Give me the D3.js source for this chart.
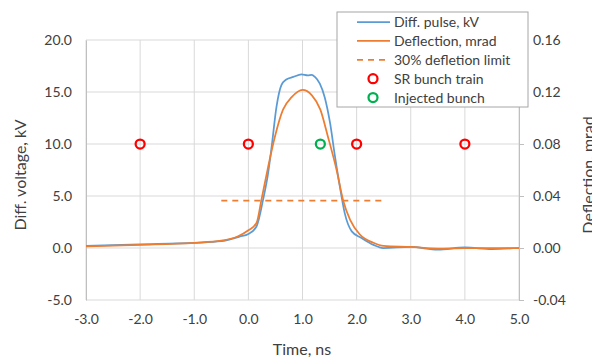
<!DOCTYPE html>
<html>
<head>
<meta charset="utf-8">
<script src="https://cdn.jsdelivr.net/npm/d3@7"></script>
<style>
  body { margin: 0; background: #fff; }
  text { font-family: Lato, "Liberation Sans", sans-serif; fill: #404040; }
</style>
</head>
<body>
<div id="chart"></div>
<script>
"use strict"

// time axis, ns
const pulseT = [-3.0, -2.0, -1.0, -0.5, -0.16, 0.0, 0.15, 0.27, 0.365, 0.43, 0.52, 0.61, 0.70, 0.83, 0.98, 1.1, 1.17, 1.23,
  1.32, 1.41, 1.51, 1.60, 1.69, 1.78, 1.91, 2.09, 2.31, 2.49, 3.0, 3.5, 4.0, 4.5, 5.0]
// differential pulse, kV
const pulseKV = [0.2, 0.35, 0.5, 0.65, 1.1, 1.35, 2.07, 4.6, 7.2, 9.74, 13.6, 15.66, 16.2, 16.45, 16.7, 16.6, 16.65, 16.45,
  15.8, 14.5, 12.0, 8.8, 5.9, 3.35, 1.6, 0.96, 0.3, 0.0, 0.1, -0.15, 0.05, -0.1, 0.0]

const deflT = [-3.0, -2.0, -1.0, -0.5, -0.2, 0.0, 0.15, 0.24, 0.365, 0.49, 0.64, 0.8, 1.0, 1.17, 1.33, 1.47, 1.63, 1.75,
  1.88, 2.06, 2.31, 2.5, 3.0, 3.5, 4.0, 4.5, 5.0]
// deflection, mrad
const deflMrad = [0.0012, 0.0024, 0.004, 0.0056, 0.0088, 0.0136, 0.0192, 0.0368, 0.0624, 0.0856, 0.1064, 0.116, 0.1216,
  0.1176, 0.1064, 0.0856, 0.06, 0.0368, 0.0216, 0.0104, 0.004, 0.0016, 0.0008, -0.0004, 0.0, 0.0, 0.0]

// 30% deflection limit, mrad
const limitT = [-0.5, 2.5]
const limitMrad = 0.0364

const trainT = [-2.0, 0.0, 2.0, 4.0]
const injectedT = [1.33]
const bunchKV = 10.0

const xTicks = [-3, -2, -1, 0, 1, 2, 3, 4, 5]
const yTicks = [-5, 0, 5, 10, 15, 20]
const y2Ticks = [-0.04, 0, 0.04, 0.08, 0.12, 0.16]

const legendItems = ["Diff. pulse, kV", "Deflection, mrad", "30% defletion limit", "SR bunch train", "Injected bunch"]

const BLUE = "#5b9bd5", ORANGE = "#ed7d31", RED = "#ff0000", GREEN = "#00b050"

const W = 592, H = 357
const margin = {top: 40, right: 73, bottom: 57, left: 86}
const width = W - margin.left - margin.right,
      height = H - margin.top - margin.bottom

const svg = d3.select("#chart").append("svg")
  .attr("width", W).attr("height", H)

const g = svg.append("g")
  .attr("transform", `translate(${margin.left},${margin.top})`)

const x = d3.scaleLinear().domain([-3, 5]).range([0, width])
const y = d3.scaleLinear().domain([-5, 20]).range([height, 0])
const y2 = d3.scaleLinear().domain([-0.04, 0.16]).range([height, 0])

// excel-style hyphen minus
const fmt = spec => d => d3.format(spec)(d).replace("\u2212", "-")

// grid
g.append("g").selectAll("line").data(yTicks).join("line")
  .attr("x1", 0).attr("x2", width)
  .attr("y1", d => y(d)).attr("y2", d => y(d))
  .attr("stroke", "#d9d9d9")
g.append("g").selectAll("line").data(xTicks).join("line")
  .attr("x1", d => x(d)).attr("x2", d => x(d))
  .attr("y1", 0).attr("y2", height)
  .attr("stroke", "#d9d9d9")

// axes
const xAxis = g.append("g")
  .attr("transform", `translate(0,${height})`)
  .call(d3.axisBottom(x).tickValues(xTicks).tickFormat(fmt(".1f")).tickSize(0).tickPadding(14))
const yAxis = g.append("g")
  .call(d3.axisLeft(y).tickValues(yTicks).tickFormat(fmt(".1f")).tickSize(0).tickPadding(14))
const y2Axis = g.append("g")
  .attr("transform", `translate(${width},0)`)
  .call(d3.axisRight(y2).tickValues(y2Ticks).tickFormat(fmt(".2f")).tickSize(5).tickPadding(9))

for (const a of [xAxis, yAxis, y2Axis]) {
  a.selectAll("text").style("font-size", "14px").attr("fill", "#404040")
  a.selectAll(".tick line").attr("stroke", "#bfbfbf")
  a.select(".domain").attr("stroke", "#bfbfbf")
}
xAxis.select(".domain").remove()

// lines
g.append("path")
  .datum(d3.range(pulseT.length))
  .attr("fill", "none").attr("stroke", BLUE).attr("stroke-width", 1.75)
  .attr("d", d3.line().curve(d3.curveMonotoneX).x(i => x(pulseT[i])).y(i => y(pulseKV[i])))

g.append("path")
  .datum(d3.range(deflT.length))
  .attr("fill", "none").attr("stroke", ORANGE).attr("stroke-width", 1.75)
  .attr("d", d3.line().curve(d3.curveMonotoneX).x(i => x(deflT[i])).y(i => y2(deflMrad[i])))

g.append("line")
  .attr("x1", x(limitT[0])).attr("x2", x(limitT[1]))
  .attr("y1", y2(limitMrad)).attr("y2", y2(limitMrad))
  .attr("stroke", ORANGE).attr("stroke-width", 1.75).attr("stroke-dasharray", "6,5")

// markers
g.append("g").selectAll("circle").data(trainT).join("circle")
  .attr("cx", d => x(d)).attr("cy", y(bunchKV)).attr("r", 4.5)
  .attr("fill", "none").attr("stroke", RED).attr("stroke-width", 2.25)
g.append("g").selectAll("circle").data(injectedT).join("circle")
  .attr("cx", d => x(d)).attr("cy", y(bunchKV)).attr("r", 4.5)
  .attr("fill", "none").attr("stroke", GREEN).attr("stroke-width", 2.25)

// axis titles
svg.append("text")
  .attr("transform", "translate(26,175) rotate(-90)")
  .attr("text-anchor", "middle").style("font-size", "16px")
  .text("Diff. voltage, kV")
svg.append("text")
  .attr("transform", "translate(594,175) rotate(-90)")
  .attr("text-anchor", "middle").style("font-size", "16px")
  .text("Deflection, mrad")
svg.append("text")
  .attr("x", 302).attr("y", 355)
  .attr("text-anchor", "middle").style("font-size", "16px")
  .text("Time, ns")

// legend
const lg = svg.append("g").attr("transform", "translate(337,12)")
lg.append("rect")
  .attr("width", 191).attr("height", 95)
  .attr("fill", "#fff").attr("stroke", "#a6a6a6")
const rowY = i => 10 + i * 18.9
legendItems.forEach((label, i) => {
  const cy = rowY(i)
  if (i < 3) {
    lg.append("line")
      .attr("x1", 20).attr("x2", 53).attr("y1", cy).attr("y2", cy)
      .attr("stroke", i === 0 ? BLUE : ORANGE).attr("stroke-width", 1.75)
      .attr("stroke-dasharray", i === 2 ? "6,5" : null)
  } else {
    lg.append("circle")
      .attr("cx", 36).attr("cy", cy).attr("r", 4.5)
      .attr("fill", "none").attr("stroke", i === 3 ? RED : GREEN).attr("stroke-width", 2.25)
  }
  lg.append("text")
    .attr("x", 57).attr("y", cy).attr("dy", "0.35em")
    .style("font-size", "14px")
    .text(label)
})
</script>
</body>
</html>
